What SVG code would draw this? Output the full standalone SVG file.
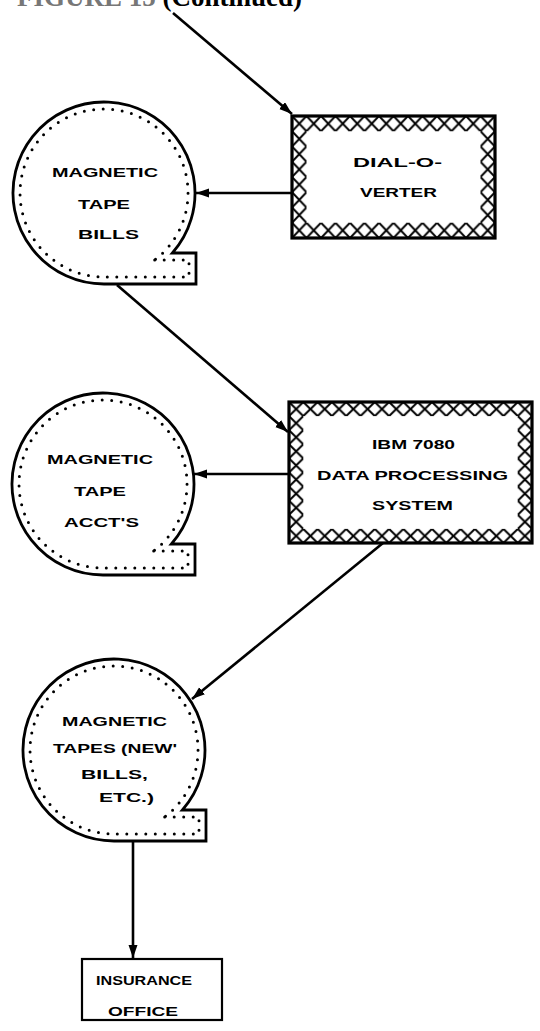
<svg xmlns="http://www.w3.org/2000/svg" xmlns:xlink="http://www.w3.org/1999/xlink" width="540" height="1031" viewBox="0 0 540 1031">
<style>
.lbl{font-family:"Liberation Sans",Arial,sans-serif;font-weight:bold;font-size:13px;fill:#000}
.conn{stroke:#000;stroke-width:2.6;fill:none;marker-end:url(#ah)}
.tape{fill:#fff;stroke:#000;stroke-width:2.8}
.dots{fill:none;stroke:#000;stroke-width:3;stroke-linecap:round;stroke-dasharray:0 9.5}
.hx{stroke:#000;stroke-width:2}
.frame{fill:none;stroke:#000;stroke-width:3.2}
</style>
<defs>
<marker id="ah" markerUnits="userSpaceOnUse" markerWidth="14" markerHeight="10" refX="13" refY="4.5" orient="auto">
<path d="M0,0 L13,4.5 L0,9 Z" fill="#000"/>
</marker>
<pattern id="hatchA" patternUnits="userSpaceOnUse" x="292" y="116" width="14.5" height="15.25">
<path class="hx" d="M0,0 L14.5,15.25 M14.5,0 L0,15.25"/>
</pattern>
<pattern id="hatchB" patternUnits="userSpaceOnUse" x="289" y="402" width="14.3" height="14.1">
<path class="hx" d="M0,0 L14.3,14.1 M14.3,0 L0,14.1"/>
</pattern>
<path id="tapeOuter" d="M68.4,60 H92 V91 H0 A91,91 0 1 1 68.4,60 Z"/>
<path id="tapeInner" d="M50.7,67 H85 V84 H0 A84,84 0 1 1 50.7,67 Z"/>
</defs>
<rect width="540" height="1031" fill="#fff"/>

<g id="title">
<text x="17" y="6" font-family="'Liberation Serif','Times New Roman',serif" font-weight="bold" font-size="27"><tspan fill="#777">FIGURE 15 </tspan><tspan fill="#000">(Continued)</tspan></text>
</g>

<g id="connectors">
<line class="conn" x1="173" y1="13" x2="292" y2="114"/>
<line class="conn" x1="292" y1="193" x2="196" y2="193"/>
<line class="conn" x1="117" y1="285" x2="288" y2="432"/>
<line class="conn" x1="289" y1="474" x2="194" y2="474"/>
<line class="conn" x1="383" y1="543" x2="192" y2="699"/>
<line class="conn" x1="133" y1="841" x2="133" y2="958"/>
</g>

<g id="dialoverter">
<rect x="292" y="116" width="203" height="122" fill="url(#hatchA)"/>
<rect x="306.5" y="131.25" width="174" height="91.5" fill="#fff"/>
<rect class="frame" x="292" y="116" width="203" height="122"/>
<text class="lbl" x="353" y="167" textLength="89" lengthAdjust="spacingAndGlyphs">DIAL-O-</text>
<text class="lbl" x="360" y="197" textLength="77" lengthAdjust="spacingAndGlyphs">VERTER</text>
</g>

<g id="tape-bills">
<use xlink:href="#tapeOuter" class="tape" transform="translate(104,193)"/>
<use xlink:href="#tapeInner" class="dots" transform="translate(104,193)"/>
<text class="lbl" x="52" y="177" textLength="106" lengthAdjust="spacingAndGlyphs">MAGNETIC</text>
<text class="lbl" x="78" y="209" textLength="52" lengthAdjust="spacingAndGlyphs">TAPE</text>
<text class="lbl" x="78" y="239" textLength="61" lengthAdjust="spacingAndGlyphs">BILLS</text>
</g>

<g id="ibm7080">
<rect x="289" y="402" width="243" height="141" fill="url(#hatchB)"/>
<rect x="303.3" y="416.1" width="214.4" height="112.8" fill="#fff"/>
<rect class="frame" x="289" y="402" width="243" height="141"/>
<text class="lbl" x="372" y="449" textLength="83" lengthAdjust="spacingAndGlyphs">IBM 7080</text>
<text class="lbl" x="317" y="480" textLength="191" lengthAdjust="spacingAndGlyphs">DATA PROCESSING</text>
<text class="lbl" x="372" y="510" textLength="81" lengthAdjust="spacingAndGlyphs">SYSTEM</text>
</g>

<g id="tape-accts">
<use xlink:href="#tapeOuter" class="tape" transform="translate(103,484)"/>
<use xlink:href="#tapeInner" class="dots" transform="translate(103,484)"/>
<text class="lbl" x="47" y="464" textLength="106" lengthAdjust="spacingAndGlyphs">MAGNETIC</text>
<text class="lbl" x="74" y="496" textLength="52" lengthAdjust="spacingAndGlyphs">TAPE</text>
<text class="lbl" x="64" y="527" textLength="75" lengthAdjust="spacingAndGlyphs">ACCT'S</text>
</g>

<g id="tape-new-bills">
<use xlink:href="#tapeOuter" class="tape" transform="translate(114,750)"/>
<use xlink:href="#tapeInner" class="dots" transform="translate(114,750)"/>
<text class="lbl" x="62" y="726" textLength="105" lengthAdjust="spacingAndGlyphs">MAGNETIC</text>
<text class="lbl" x="53" y="753" textLength="124" lengthAdjust="spacingAndGlyphs">TAPES (NEW'</text>
<text class="lbl" x="81" y="779" textLength="67" lengthAdjust="spacingAndGlyphs">BILLS,</text>
<text class="lbl" x="99" y="802" textLength="55" lengthAdjust="spacingAndGlyphs">ETC.)</text>
</g>

<g id="insurance-office">
<rect x="82" y="959" width="140" height="61" fill="#fff" stroke="#000" stroke-width="2.2"/>
<text class="lbl" x="96" y="985" textLength="96" lengthAdjust="spacingAndGlyphs">INSURANCE</text>
<text class="lbl" x="108" y="1016" textLength="70" lengthAdjust="spacingAndGlyphs">OFFICE</text>
</g>
</svg>
